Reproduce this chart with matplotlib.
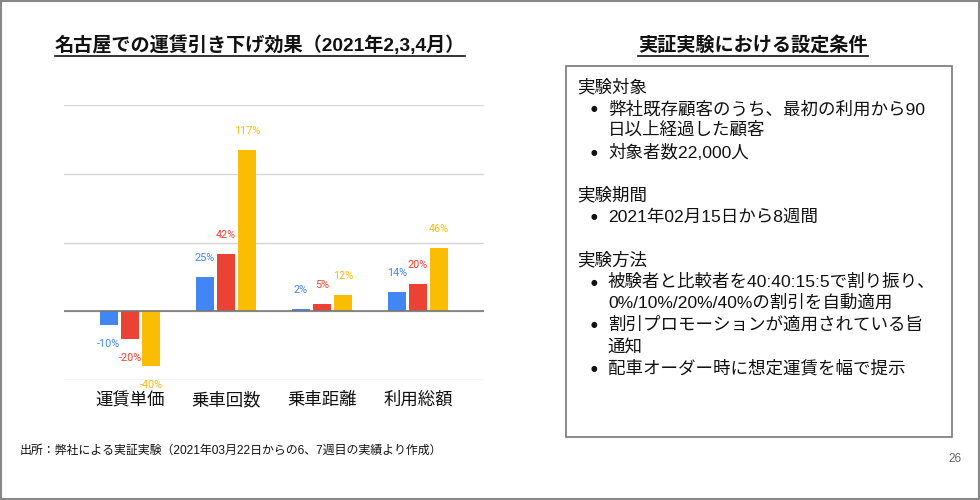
import matplotlib
matplotlib.use("Agg")
import matplotlib.pyplot as plt
from matplotlib.patches import Rectangle
from matplotlib.lines import Line2D
import numpy as np

plt.rcParams['font.family'] = ['Noto Sans CJK JP', 'DejaVu Sans']
mixed = ['Liberation Sans', 'Noto Sans CJK JP']

# data
categories = ['運賃単価', '乗車回数', '乗車距離', '利用総額']
off10 = [-10, 25, 2, 14]
off20 = [-20, 42, 5, 20]
off40 = [-40, 117, 12, 46]
series = [off10, off20, off40]
colors = ['#4285F4', '#EA4335', '#FBBC04']

W, H = 980, 500
fig = plt.figure(figsize=(9.8, 5.0), dpi=100)

def fx(px):
    return px / W

def fy(py):
    return 1 - py / H

# chart axes
ax = fig.add_axes([fx(64), fy(380), fx(484 - 64), fy(105) - fy(380)])
x = np.arange(len(categories))
width = 0.19
step = 0.22
for i, (vals, c) in enumerate(zip(series, colors)):
    pos = x + (i - 1) * step
    bars = ax.bar(pos, vals, width, color=c, zorder=3)
    for b, v in zip(bars, vals):
        if v >= 0:
            yo, va = 10, 'bottom'
        else:
            yo, va = -10, 'top'
        ax.annotate(f'{v}%', (b.get_x() + b.get_width() / 2, v),
                    xytext=(0, yo), textcoords='offset points',
                    ha='center', va=va, fontsize=7.8, color=c,
                    family=['Roboto', 'DejaVu Sans'], zorder=4)

ax.set_ylim(-50, 150)
ax.set_xlim(-0.6875, 3.6875)
ax.set_yticks([-50, 0, 50, 100, 150])
ax.set_yticklabels([])
ax.yaxis.grid(True, color='#d6d6d6', linewidth=1, zorder=0)
ax.axhline(0, color='#777777', linewidth=1.2, zorder=3.5)
ax.set_xticks(x)
ax.set_xticklabels(categories, fontsize=12.5, color='#111111')
ax.tick_params(axis='both', length=0)
ax.tick_params(axis='x', pad=8)
for s in ax.spines.values():
    s.set_visible(False)

# titles
t1 = fig.text(fx(260), fy(45), '名古屋での運賃引き下げ効果（2021年2,3,4月）',
              ha='center', va='center', fontsize=13.8, fontweight='bold',
              color='#111111', family=mixed)
t2 = fig.text(fx(753), fy(45), '実証実験における設定条件',
              ha='center', va='center', fontsize=13.8, fontweight='bold', color='#111111')

# conditions box
fig.patches.append(Rectangle((fx(566), fy(437)), fx(952 - 566), fy(66) - fy(437),
                             transform=fig.transFigure, fill=False,
                             edgecolor='#777777', linewidth=1.2))

lines = [
    ('h', 87, '実験対象'),
    ('b', 109, '弊社既存顧客のうち、最初の利用から90'),
    ('c', 130, '日以上経過した顧客'),
    ('b', 152, '対象者数22,000人'),
    ('h', 195, '実験期間'),
    ('b', 217, '2021年02月15日から8週間'),
    ('h', 260, '実験方法'),
    ('b', 282, '被験者と比較者を40:40:15:5で割り振り、'),
    ('c', 303, '0%/10%/20%/40%の割引を自動適用'),
    ('b', 325, '割引プロモーションが適用されている旨'),
    ('c', 347, '通知'),
    ('b', 368, '配車オーダー時に想定運賃を幅で提示'),
]
for kind, py, txt in lines:
    if kind == 'h':
        fig.text(fx(577), fy(py), txt, ha='left', va='center', fontsize=12.6,
                 color='#111111', family=mixed)
    else:
        if kind == 'b':
            fig.text(fx(594), fy(py), '●', ha='center', va='center', fontsize=5.5,
                     color='#111111', family=['DejaVu Sans'])
        fig.text(fx(608), fy(py), txt, ha='left', va='center', fontsize=12.6,
                 color='#111111', family=mixed)

# footer
fig.text(fx(20), fy(451), '出所：弊社による実証実験（2021年03月22日からの6、7週目の実績より作成）',
         ha='left', va='center', fontsize=8.6, color='#111111', family=mixed)
fig.text(fx(955), fy(459), '26', ha='center', va='center', fontsize=8.5,
         color='#666666', family=mixed)

# outer frame
fig.patches.append(Rectangle((0.001, 0.003), 0.998, 0.996, transform=fig.transFigure,
                             fill=False, edgecolor='#888888', linewidth=1.5))

# underline titles
r = fig.canvas.get_renderer()
for t in (t1, t2):
    bb = t.get_window_extent(renderer=r).transformed(fig.transFigure.inverted())
    fig.lines.append(Line2D([bb.x0, bb.x1], [bb.y0 - 0.002, bb.y0 - 0.002],
                            transform=fig.transFigure, color='#111111', linewidth=1.2))

fig.savefig('out.png', dpi=100)
